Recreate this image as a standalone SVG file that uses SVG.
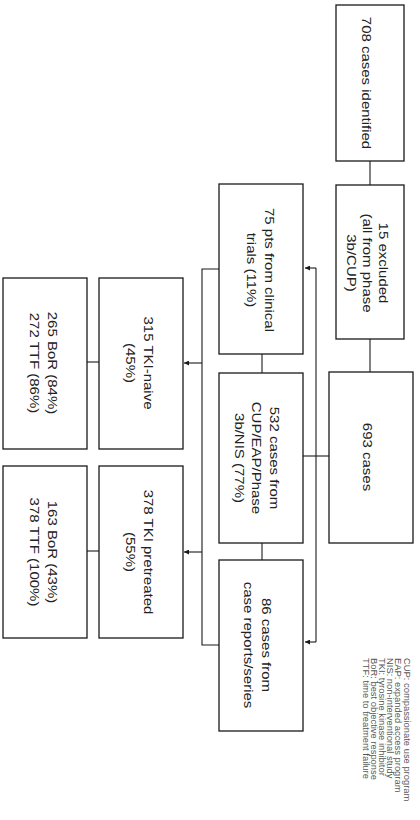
<svg xmlns="http://www.w3.org/2000/svg" width="420" height="820" viewBox="0 0 420 820">
<defs>
<style>
.box{fill:#fff;stroke:#1a1a1a;stroke-width:1.3}
.ln{fill:none;stroke:#1a1a1a;stroke-width:1.1}
.t{font-family:"Liberation Sans",Arial,Helvetica,sans-serif;font-size:15px;text-anchor:middle;fill:#222}
.lg{font-family:"Liberation Sans",Arial,Helvetica,sans-serif;font-size:9.4px;text-anchor:start;fill:#555}
</style>
<marker id="ah" viewBox="0 0 10 10" refX="10" refY="5" markerWidth="5" markerHeight="5" markerUnits="userSpaceOnUse" orient="auto">
<path d="M0,0 L10,5 L0,10 z" fill="#1a1a1a"/>
</marker>
</defs>
<rect width="420" height="820" fill="#fff"/>
<g id="connectors">
<path class="ln" d="M370,161 V185"/>
<path class="ln" d="M370,339 V372"/>
<path class="ln" d="M329,456 H303"/>
<path class="ln" d="M316,268 V642"/>
<path class="ln" d="M316,268 H305" marker-end="url(#ah)"/>
<path class="ln" d="M316,642 H305" marker-end="url(#ah)"/>
<path class="ln" d="M262,354 V373"/>
<path class="ln" d="M262,543 V560"/>
<path class="ln" d="M219,269 H202 V645 H219"/>
<path class="ln" d="M202,363 H184" marker-end="url(#ah)"/>
<path class="ln" d="M202,552 H184" marker-end="url(#ah)"/>
<path class="ln" d="M99,362 H87"/>
<path class="ln" d="M99,551 H87"/>
</g>
<g id="n708">
<rect class="box" x="336" y="5" width="68" height="156"/>
<text class="t" transform="translate(362,83) rotate(90) scale(1,0.88)"><tspan x="0" dy="0">708 cases identified</tspan></text>
</g>
<g id="n15">
<rect class="box" x="336" y="185" width="68" height="154"/>
<text class="t" transform="translate(379,263) rotate(90) scale(1,0.88)"><tspan x="0" dy="0">15 excluded</tspan><tspan x="0" dy="18.2">(all from phase</tspan><tspan x="0" dy="18.2">3b/CUP)</tspan></text>
</g>
<g id="n693">
<rect class="box" x="329" y="372" width="84" height="171"/>
<text class="t" transform="translate(363,457) rotate(90) scale(1,0.88)"><tspan x="0" dy="0">693 cases</tspan></text>
</g>
<g id="n75">
<rect class="box" x="219" y="184" width="84" height="170"/>
<text class="t" transform="translate(265,270) rotate(90) scale(1,0.88)"><tspan x="0" dy="0">75 pts from clinical</tspan><tspan x="0" dy="20.5">trials (11%)</tspan></text>
</g>
<g id="n532">
<rect class="box" x="219" y="373" width="84" height="170"/>
<text class="t" transform="translate(270,458) rotate(90) scale(1,0.88)"><tspan x="0" dy="0">532 cases from</tspan><tspan x="0" dy="19.9">CUP/EAP/Phase</tspan><tspan x="0" dy="19.9">3b/NIS (77%)</tspan></text>
</g>
<g id="n86">
<rect class="box" x="219" y="560" width="84" height="171"/>
<text class="t" transform="translate(262,645) rotate(90) scale(1,0.88)"><tspan x="0" dy="0">86 cases from</tspan><tspan x="0" dy="20.5">case reports/series</tspan></text>
</g>
<g id="n315">
<rect class="box" x="99" y="278" width="84" height="171"/>
<text class="t" transform="translate(144,363) rotate(90) scale(1,0.88)"><tspan x="0" dy="0">315 TKI-naive</tspan><tspan x="0" dy="21">(45%)</tspan></text>
</g>
<g id="n265">
<rect class="box" x="3" y="278" width="84" height="171"/>
<text class="t" transform="translate(48,363) rotate(90) scale(1,0.88)"><tspan x="0" dy="0">265 BoR (84%)</tspan><tspan x="0" dy="20.5">272 TTF (86%)</tspan></text>
</g>
<g id="n378">
<rect class="box" x="99" y="466" width="84" height="172"/>
<text class="t" transform="translate(144,552) rotate(90) scale(1,0.88)"><tspan x="0" dy="0">378 TKI pretreated</tspan><tspan x="0" dy="21">(55%)</tspan></text>
</g>
<g id="n163">
<rect class="box" x="3" y="466" width="84" height="172"/>
<text class="t" transform="translate(48,552) rotate(90) scale(1,0.88)"><tspan x="0" dy="0">163 BoR (43%)</tspan><tspan x="0" dy="20.5">378 TTF (100%)</tspan></text>
</g>
<g id="legend">
<text class="lg" transform="translate(403.5,658) rotate(90)"><tspan x="0" dy="0">CUP: compassionate use program</tspan><tspan x="0" dy="8.1">EAP: expanded access program</tspan><tspan x="0" dy="8.1">NIS: non-interventional study</tspan><tspan x="0" dy="8.1">TKI: tyrosine kinase inhibitor</tspan><tspan x="0" dy="8.1">BoR: best objective response</tspan><tspan x="0" dy="8.1">TTF: time to treatment failure</tspan></text>
</g>
</svg>
